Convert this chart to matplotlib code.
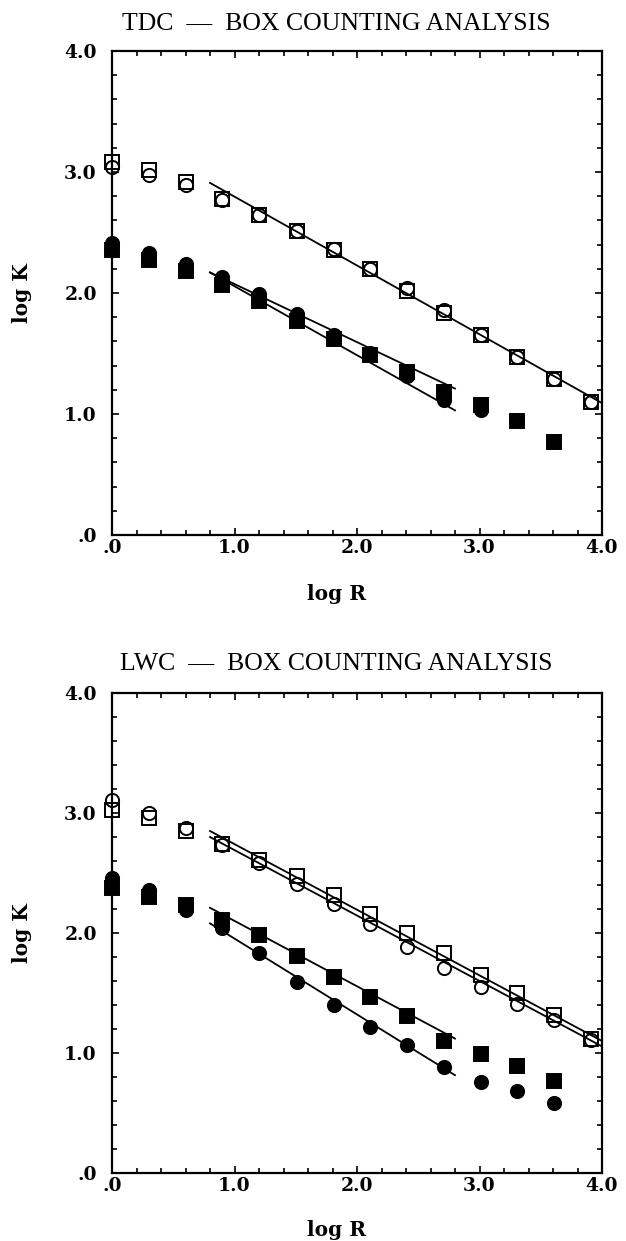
import matplotlib
matplotlib.use("Agg")
import matplotlib.pyplot as plt
from matplotlib.ticker import MultipleLocator, FixedLocator, FixedFormatter

# ---------------- data ----------------
log_r = [0.0, 0.30, 0.60, 0.90, 1.20, 1.51, 1.81, 2.11, 2.41, 2.71, 3.01, 3.31, 3.61, 3.91]

# TDC panel
tdc_open_sq = [3.085, 3.02, 2.92, 2.78, 2.645, 2.51, 2.355, 2.20, 2.02, 1.835, 1.65, 1.475, 1.29, 1.10]
tdc_open_ci = [3.04, 2.975, 2.89, 2.77, 2.645, 2.515, 2.36, 2.20, 2.04, 1.86, 1.65, 1.475, 1.29, 1.10]
tdc_fill_sq = [2.355, 2.27, 2.18, 2.07, 1.93, 1.765, 1.62, 1.49, 1.35, 1.185, 1.075, 0.94, 0.765]
tdc_fill_ci = [2.41, 2.33, 2.24, 2.135, 1.99, 1.825, 1.65, 1.50, 1.31, 1.115, 1.03]
tdc_fit_open_x = [0.8, 4.0]
tdc_fit_open_y = [2.91, 1.09]
tdc_fit_fsq_x = [0.8, 2.8]
tdc_fit_fsq_y = [2.17, 1.21]
tdc_fit_fci_x = [0.8, 2.8]
tdc_fit_fci_y = [2.17, 1.03]

# LWC panel
lwc_open_sq = [3.025, 2.956, 2.853, 2.745, 2.61, 2.475, 2.317, 2.158, 2.0, 1.83, 1.65, 1.50, 1.317, 1.114]
lwc_open_ci = [3.108, 2.997, 2.872, 2.73, 2.586, 2.41, 2.24, 2.075, 1.88, 1.71, 1.55, 1.41, 1.275, 1.108]
lwc_fill_sq = [2.375, 2.30, 2.233, 2.108, 1.983, 1.808, 1.63, 1.464, 1.308, 1.103, 0.99, 0.894, 0.77]
lwc_fill_ci = [2.46, 2.36, 2.19, 2.04, 1.836, 1.594, 1.40, 1.22, 1.067, 0.886, 0.76, 0.686, 0.58]
lwc_fit_osq_x = [0.8, 4.0]
lwc_fit_osq_y = [2.85, 1.10]
lwc_fit_oci_x = [0.8, 4.0]
lwc_fit_oci_y = [2.80, 1.055]
lwc_fit_fsq_x = [0.8, 2.8]
lwc_fit_fsq_y = [2.21, 1.12]
lwc_fit_fci_x = [0.8, 2.8]
lwc_fit_fci_y = [2.08, 0.815]

tick_vals = [0.0, 1.0, 2.0, 3.0, 4.0]
tick_labels = [".0", "1.0", "2.0", "3.0", "4.0"]
titles = ["TDC  \u2014  BOX COUNTING ANALYSIS", "LWC  \u2014  BOX COUNTING ANALYSIS"]
xlabel = "log R"
ylabel = "log K"

# ---------------- figure ----------------
W, H = 626, 1241
fig = plt.figure(figsize=(W / 100, H / 100), dpi=100)
fig.patch.set_facecolor("white")

tick_font = dict(family="DejaVu Serif", weight="bold", size=13.5)
label_font = dict(family="DejaVu Serif", weight="bold", size=14.5)
title_font = dict(family="Liberation Serif", size=18.5)

def px_axes(left, top, right, bottom):
    return fig.add_axes([left / W, 1 - bottom / H, (right - left) / W, (bottom - top) / H])

ax1 = px_axes(112, 51, 602, 535)
ax2 = px_axes(112, 693, 602, 1173)

ms = 9.5
mew = 1.4

def style(ax):
    ax.set_xlim(0, 4)
    ax.set_ylim(0, 4)
    for s in ax.spines.values():
        s.set_linewidth(1.6)
        s.set_color("black")
    ax.xaxis.set_major_locator(FixedLocator(tick_vals))
    ax.xaxis.set_major_formatter(FixedFormatter(tick_labels))
    ax.yaxis.set_major_locator(FixedLocator(tick_vals))
    ax.yaxis.set_major_formatter(FixedFormatter(tick_labels))
    ax.xaxis.set_minor_locator(MultipleLocator(0.2))
    ax.yaxis.set_minor_locator(MultipleLocator(0.2))
    ax.tick_params(which="both", direction="in", top=True, right=True, width=1.2, color="black")
    ax.tick_params(which="major", length=5)
    ax.tick_params(which="minor", length=3.8)
    ax.tick_params(axis="x", which="major", pad=3)
    ax.tick_params(axis="y", which="major", pad=11)
    for lab in ax.get_xticklabels() + ax.get_yticklabels():
        lab.set_fontfamily(tick_font["family"])
        lab.set_fontweight(tick_font["weight"])
        lab.set_fontsize(tick_font["size"])

def pts(ax, y, marker, filled):
    x = log_r[:len(y)]
    if filled:
        ax.plot(x, y, linestyle="none", marker=marker, ms=ms, mfc="black", mec="black",
                mew=mew, clip_on=False, zorder=4)
    else:
        ax.plot(x, y, linestyle="none", marker=marker, ms=ms, mfc="none", mec="black",
                mew=mew, clip_on=False, zorder=4)

def fit(ax, x, y):
    ax.plot(x, y, color="black", lw=1.3, zorder=3)

# TDC
pts(ax1, tdc_open_sq, "s", False)
pts(ax1, tdc_open_ci, "o", False)
pts(ax1, tdc_fill_sq, "s", True)
pts(ax1, tdc_fill_ci, "o", True)
fit(ax1, tdc_fit_open_x, tdc_fit_open_y)
fit(ax1, tdc_fit_fsq_x, tdc_fit_fsq_y)
fit(ax1, tdc_fit_fci_x, tdc_fit_fci_y)

# LWC
pts(ax2, lwc_open_sq, "s", False)
pts(ax2, lwc_open_ci, "o", False)
pts(ax2, lwc_fill_sq, "s", True)
pts(ax2, lwc_fill_ci, "o", True)
fit(ax2, lwc_fit_osq_x, lwc_fit_osq_y)
fit(ax2, lwc_fit_oci_x, lwc_fit_oci_y)
fit(ax2, lwc_fit_fsq_x, lwc_fit_fsq_y)
fit(ax2, lwc_fit_fci_x, lwc_fit_fci_y)

for ax in (ax1, ax2):
    style(ax)

# titles and labels in pixel positions
def ftext(xp, yp, s, **kw):
    fig.text(xp / W, 1 - yp / H, s, ha="center", va="center", **kw)

ftext(336, 24, titles[0], **title_font)
ftext(336, 664, titles[1], **title_font)
ftext(337, 594, xlabel, **label_font)
ftext(337, 1230, xlabel, **label_font)
ftext(22, 293, ylabel, rotation=90, **label_font)
ftext(22, 933, ylabel, rotation=90, **label_font)

fig.savefig("out.png", dpi=100, facecolor="white")
